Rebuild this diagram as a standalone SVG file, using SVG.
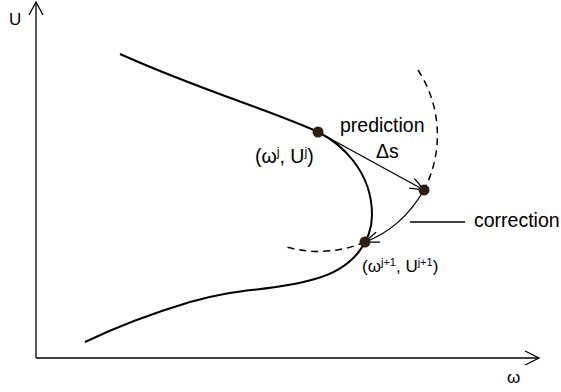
<svg xmlns="http://www.w3.org/2000/svg" width="561" height="392" viewBox="0 0 561 392">
<defs>
<style>
.ax{fill:none;stroke:#000;stroke-width:1.3}
.curve{fill:none;stroke:#000;stroke-width:2}
.dash{fill:none;stroke:#000;stroke-width:1.5;stroke-dasharray:7 5}
.thin{fill:none;stroke:#000;stroke-width:1.3}
.dot{fill:#2e1e12}
text{font-family:"Liberation Sans",Arial,sans-serif;font-size:17px;fill:#000}
.big{font-size:19.5px}
.sup{font-size:11px}
.supb{font-size:12.5px}
</style>
<marker id="open" viewBox="0 0 16 12" refX="15" refY="6" markerWidth="16" markerHeight="12" markerUnits="userSpaceOnUse" orient="auto">
<path d="M1,0.5 L15,6 L1,11.5" fill="none" stroke="#000" stroke-width="1.3"/>
</marker>
</defs>
<rect width="561" height="392" fill="#fff"/>
<g id="axes">
<path class="ax" d="M36,358 L36,2"/>
<path class="ax" d="M29,15 L36,2 L43,15"/>
<path class="ax" d="M36,358 L539,358"/>
<path class="ax" d="M525,351 L539,358 L525,365"/>
<text x="9" y="25">U</text>
<text x="507" y="383">ω</text>
</g>
<g id="curve">
<path class="curve" d="M120,54 C200,90 270,110 318,132 C340,143 372,170 372,215 C372,240 355,268 315,279 C270,292 240,287 190,302 C150,314 110,330 85,342"/>
</g>
<g id="connectors">
<path class="dash" d="M418,70 A119,119 0 0 1 424,190"/>
<path class="dash" d="M365,242 A119,119 0 0 1 283,246"/>
<path class="thin" d="M318,132 L424,190" marker-end="url(#open)"/>
<path class="thin" d="M424,190 Q402,228 365,242" marker-end="url(#open)"/>
<path class="thin" d="M410,222 L465,222"/>
</g>
<g id="point-j">
<circle class="dot" cx="318" cy="132" r="5.5"/>
<text class="big" x="255" y="163">(ω<tspan class="supb" dy="-7">j</tspan><tspan dy="7">, U</tspan><tspan class="supb" dy="-7">j</tspan><tspan dy="7">)</tspan></text>
</g>
<g id="point-pred">
<circle class="dot" cx="424" cy="190" r="5.5"/>
<text class="big" x="340" y="132">prediction</text>
<text class="big" x="376" y="158">Δs</text>
</g>
<g id="point-j1">
<circle class="dot" cx="365" cy="242" r="5.5"/>
<text x="362" y="272">(ω<tspan class="sup" dy="-6">j+1</tspan><tspan dy="6">, U</tspan><tspan class="sup" dy="-6">j+1</tspan><tspan dy="6">)</tspan></text>
</g>
<g id="correction">
<text class="big" x="474" y="227">correction</text>
</g>
</svg>
